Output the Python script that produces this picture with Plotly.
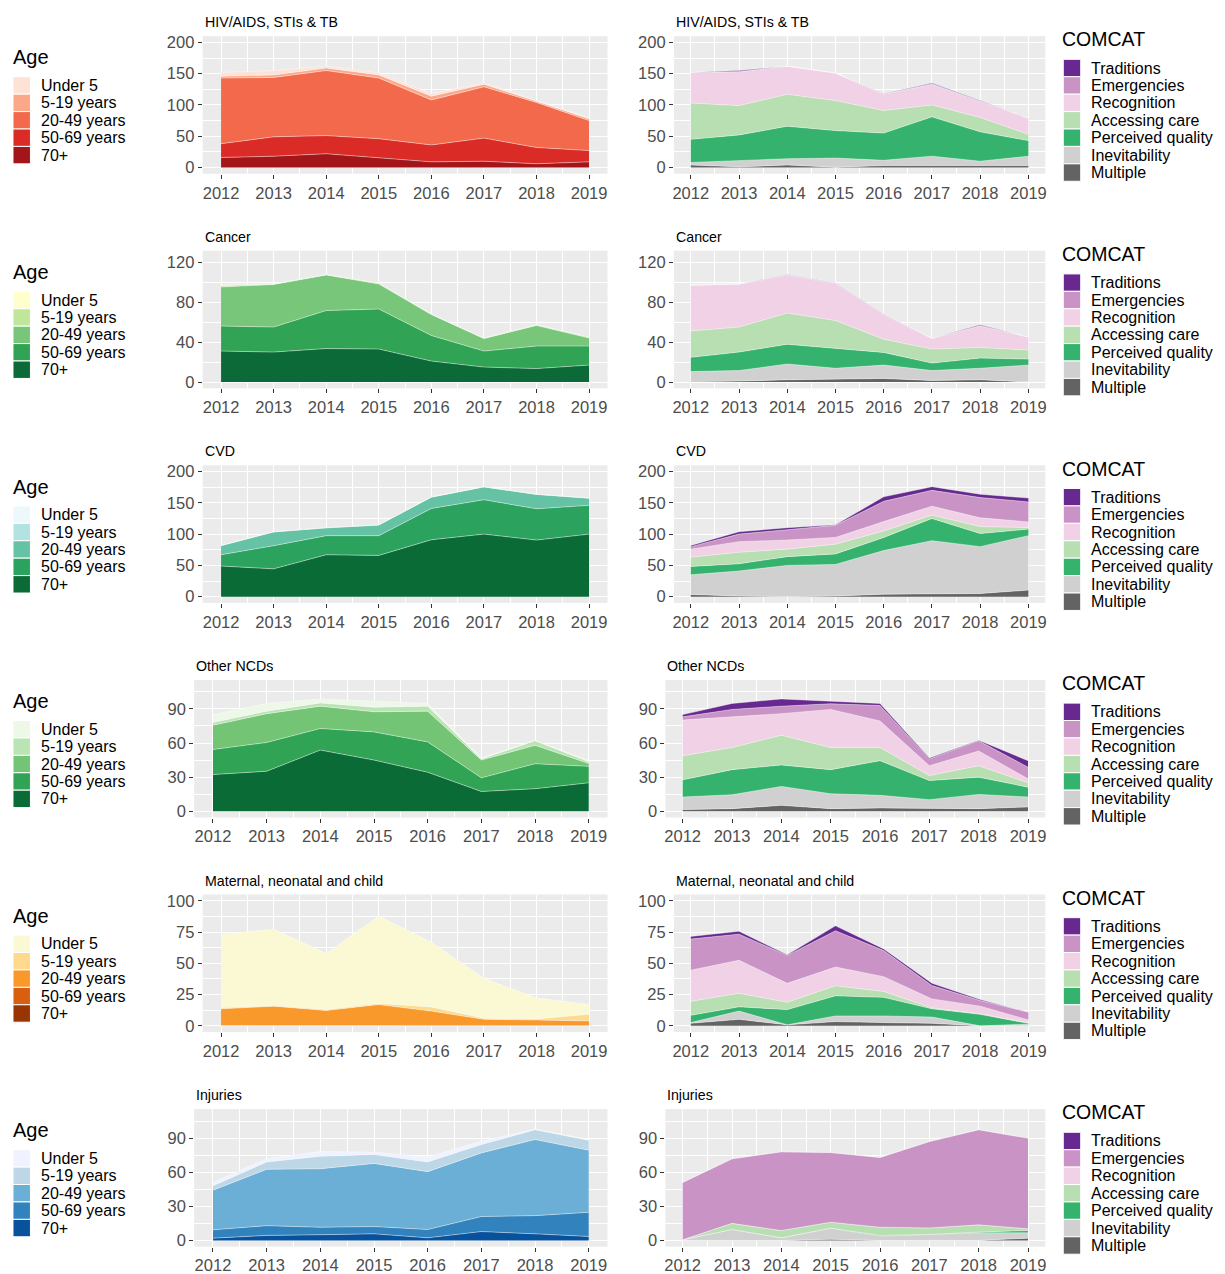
import plotly.graph_objects as go

W, H = 1225, 1274
years = [2012, 2013, 2014, 2015, 2016, 2017, 2018, 2019]

age_labels = ["Under 5", "5-19 years", "20-49 years", "50-69 years", "70+"]
comcat_labels = ["Traditions", "Emergencies", "Recognition", "Accessing care",
                 "Perceived quality", "Inevitability", "Multiple"]
panel_titles = ["HIV/AIDS, STIs & TB", "Cancer", "CVD", "Other NCDs",
                "Maternal, neonatal and child", "Injuries"]

# ---------------- HIV/AIDS, STIs & TB ----------------
hiv_under5 = [6, 7, 3, 3, 4, 2, 1, 1]
hiv_5_19 = [3, 4, 4, 5, 6, 4, 2, 3]
hiv_20_49 = [105, 95, 104, 97, 72, 82, 72, 48]
hiv_50_69 = [22, 31, 29, 30, 27, 37, 26, 18]
hiv_70p = [16, 18, 22, 16, 9, 10, 6, 9]

hiv_traditions = [0, 1.5, 0, 0, 0.5, 1, 0.5, 0]
hiv_emergencies = [0, 0.5, 0, 0, 0.5, 1, 0.5, 0]
hiv_recognition = [49, 54, 45, 44, 26, 33, 26, 26]
hiv_accessing = [58, 47, 51, 48, 36, 19, 23, 10]
hiv_perceived = [37, 41.5, 52, 44, 43.5, 63, 47, 25]
hiv_inevitability = [4, 9.5, 10, 14.5, 8.5, 15, 7, 15]
hiv_multiple = [4, 1, 4, 0.5, 3, 3, 3, 3]

# ---------------- Cancer ----------------
can_under5 = [0.3, 0, 0, 0, 0, 0, 0, 0]
can_5_19 = [1.5, 0.5, 0.5, 1, 0.3, 0.3, 0.8, 1]
can_20_49 = [39, 42.5, 35.5, 25, 21, 12.5, 20.5, 8]
can_50_69 = [25, 25, 38, 40, 25.5, 16, 22.5, 19]
can_70p = [31, 30, 33.5, 33, 21, 15, 13.5, 17]

can_traditions = [0, 0, 0.3, 0.2, 0.2, 0.1, 0.8, 0]
can_emergencies = [0, 0, 0.3, 0.3, 0.3, 0.2, 0.5, 0.1]
can_recognition = [45.8, 43, 37.9, 37, 24.5, 10.5, 21.5, 12.9]
can_accessing = [26.3, 25, 31.2, 27.5, 13.2, 14, 10.5, 9]
can_perceived = [14.2, 18.5, 19.8, 20.2, 12.6, 7.5, 10.2, 6]
can_inevitability = [10, 10.5, 15.7, 10.5, 13.4, 9.9, 11.5, 17]
can_multiple = [0.5, 1, 2.3, 3.3, 3.6, 1.6, 2.3, 0]

# ---------------- CVD ----------------
cvd_under5 = [0, 0, 0, 0, 0.2, 0, 0, 0]
cvd_5_19 = [0.5, 0.3, 0.3, 0.3, 0.5, 0.3, 0.3, 0.2]
cvd_20_49 = [14.5, 22, 12.5, 17, 18, 20.5, 23, 11.5]
cvd_50_69 = [18, 37, 30.5, 31.5, 50, 55, 50, 46]
cvd_70p = [49, 44.5, 67, 66, 91, 100, 90.5, 100]

cvd_traditions = [2, 3.8, 3.3, 0.8, 7.2, 5.8, 5.3, 6.2]
cvd_emergencies = [4, 12, 16.5, 19.3, 32.5, 25.3, 32.5, 32]
cvd_recognition = [13, 17, 14.5, 10.7, 15, 14.2, 14, 9]
cvd_accessing = [14.6, 18.4, 12, 15.6, 10.3, 5.5, 11, 2.5]
cvd_perceived = [13.4, 11.6, 14, 16.8, 21, 35.5, 21, 10.5]
cvd_inevitability = [31.5, 40, 49.7, 50.6, 69.7, 84.5, 75, 87]
cvd_multiple = [3.5, 1, 0.3, 1, 4, 5, 5, 10.5]

# ---------------- Other NCDs ----------------
ncd_under5 = [7, 6.8, 3.5, 5.3, 2.4, 0.8, 0.5, 0.9]
ncd_5_19 = [2.4, 2.2, 2.9, 4, 4.4, 1, 4, 1.6]
ncd_20_49 = [21.3, 25.3, 19.6, 17.7, 27, 15.6, 16.2, 2.5]
ncd_50_69 = [22, 25.3, 19, 24.8, 26.7, 12, 22, 14.5]
ncd_70p = [32.3, 35.2, 53.8, 45, 34.3, 17.4, 19.8, 25]

ncd_traditions = [2, 5.3, 6.4, 2.3, 1.8, 0.8, 0.5, 5.8]
ncd_emergencies = [2.8, 6.5, 6.6, 5, 13.6, 6, 9, 10.2]
ncd_recognition = [31.4, 27, 18.9, 33.5, 23.4, 8.6, 13, 3.5]
ncd_accessing = [21.2, 19.4, 26.2, 19.4, 11.5, 4.4, 10, 3.8]
ncd_perceived = [15.1, 22.1, 18.9, 21.2, 30.5, 16.8, 15.2, 8.7]
ncd_inevitability = [11, 12.2, 16.6, 13.1, 11.1, 7.9, 12.5, 8.7]
ncd_multiple = [1.5, 2.3, 5.2, 2.3, 2.9, 2.3, 2.3, 3.8]

# ---------------- Maternal, neonatal and child ----------------
mat_under5 = [58.9, 61, 45, 69.9, 51.8, 32, 16.8, 7.8]
mat_5_19 = [0.8, 0.5, 0.7, 0.8, 3.2, 0.8, 0.8, 5.3]
mat_20_49 = [13.3, 15.5, 12.1, 16.7, 11.6, 5.1, 4.6, 3.8]
mat_50_69 = [0.3, 0.2, 0.2, 0.3, 0.2, 0.1, 0.1, 0.1]
mat_70p = [0, 0, 0, 0, 0, 0, 0, 0]

mat_traditions = [2.1, 2.3, 0.5, 4, 1.3, 1.8, 0.8, 0]
mat_emergencies = [24.9, 20.9, 22.3, 29, 20.9, 10.7, 4.5, 6.3]
mat_recognition = [24.9, 26.4, 15.2, 15, 11.8, 7.1, 6, 2.3]
mat_accessing = [11.2, 10.8, 5.8, 8, 4.7, 0.8, 0.5, 0.4]
mat_perceived = [5.8, 3.4, 12.2, 16.1, 14.9, 6.6, 9.2, 0.7]
mat_inevitability = [0.6, 6.6, 0, 4.5, 5.3, 5, 0, 1.3]
mat_multiple = [2, 5.2, 0.8, 3.4, 2.6, 2, 0, 0]

# ---------------- Injuries ----------------
inj_under5 = [3, 2.8, 4.2, 2, 4.3, 2.9, 0.6, 0.7]
inj_5_19 = [3.8, 6.5, 11, 7.9, 8.5, 7.3, 8.7, 8.6]
inj_20_49 = [34.9, 49.5, 51.4, 55.5, 50.9, 56, 66.9, 54.7]
inj_50_69 = [7.3, 8.6, 6.6, 6.4, 7.3, 13.2, 16, 21.2]
inj_70p = [2, 4.4, 5, 5.8, 2.3, 7.8, 5.8, 3.5]

inj_traditions = [0, 0, 0, 0, 0, 0, 0, 0]
inj_emergencies = [50.4, 56.8, 69.3, 61.3, 61.4, 76, 83.7, 79.8]
inj_recognition = [0, 0, 0, 0, 0, 0, 0, 0]
inj_accessing = [0, 5.4, 6.4, 5.2, 7.2, 5.8, 6.4, 1.5]
inj_perceived = [0, 0, 0, 0, 0.6, 0.2, 0.6, 2]
inj_inevitability = [0.6, 9.6, 2.3, 9.8, 3.8, 5, 6.7, 4.7]
inj_multiple = [0, 0, 0, 1, 0, 0, 0, 2]

# y-axis scales per row
y_ranges = [[-10, 210], [-6.25, 131.25], [-10, 210], [-5.5, 115.5], [-5, 105], [-5.5, 115.5]]
y_ticks = [[0, 50, 100, 150, 200], [0, 40, 80, 120], [0, 50, 100, 150, 200],
           [0, 30, 60, 90], [0, 25, 50, 75, 100], [0, 30, 60, 90]]
y_minor = [[25, 75, 125, 175], [20, 60, 100], [25, 75, 125, 175],
           [15, 45, 75, 105], [12.5, 37.5, 62.5, 87.5], [15, 45, 75, 105]]

# palettes
age_palettes = [
    ["#FEE2D6", "#FBA88A", "#F26A4B", "#DB2B26", "#A31519"],
    ["#FFFFCC", "#C2E699", "#78C679", "#31A354", "#0B6A37"],
    ["#EDF8FB", "#B2E2E2", "#66C2A4", "#2CA25F", "#0B6B37"],
    ["#EDF8E9", "#BAE4B3", "#74C476", "#31A354", "#0B6B37"],
    ["#FBF9D3", "#FED98E", "#F9992C", "#D95F0E", "#993404"],
    ["#EFF3FF", "#BDD7E7", "#6BAED6", "#3182BD", "#08519C"],
]
comcat_colors = ["#67298F", "#C994C5", "#F0D1E5", "#B8DFB1", "#35B26E", "#D0D0D0", "#636363"]

age_data = [
    [hiv_under5, hiv_5_19, hiv_20_49, hiv_50_69, hiv_70p],
    [can_under5, can_5_19, can_20_49, can_50_69, can_70p],
    [cvd_under5, cvd_5_19, cvd_20_49, cvd_50_69, cvd_70p],
    [ncd_under5, ncd_5_19, ncd_20_49, ncd_50_69, ncd_70p],
    [mat_under5, mat_5_19, mat_20_49, mat_50_69, mat_70p],
    [inj_under5, inj_5_19, inj_20_49, inj_50_69, inj_70p],
]
comcat_data = [
    [hiv_traditions, hiv_emergencies, hiv_recognition, hiv_accessing, hiv_perceived, hiv_inevitability, hiv_multiple],
    [can_traditions, can_emergencies, can_recognition, can_accessing, can_perceived, can_inevitability, can_multiple],
    [cvd_traditions, cvd_emergencies, cvd_recognition, cvd_accessing, cvd_perceived, cvd_inevitability, cvd_multiple],
    [ncd_traditions, ncd_emergencies, ncd_recognition, ncd_accessing, ncd_perceived, ncd_inevitability, ncd_multiple],
    [mat_traditions, mat_emergencies, mat_recognition, mat_accessing, mat_perceived, mat_inevitability, mat_multiple],
    [inj_traditions, inj_emergencies, inj_recognition, inj_accessing, inj_perceived, inj_inevitability, inj_multiple],
]

FONT = "Liberation Sans, Arial, sans-serif"
fig = go.Figure()
layout_axes = {}
annotations = []
shapes = []

def fx(px):
    return px / W

def fy(py):
    return 1 - py / H

ROW_STEP = 216.8
for i in range(6):
    top = 33.5 + ROW_STEP * i
    bot = top + 139
    narrow = i in (3, 5)
    cols = [(193.5 if narrow else 202.0, 607.5), (665.5 if narrow else 674.0, 1046.0)]
    for j in range(2):
        n = 2 * i + j + 1
        xa = "x" if n == 1 else f"x{n}"
        ya = "y" if n == 1 else f"y{n}"
        x0, x1 = cols[j]
        layout_axes["xaxis" if n == 1 else f"xaxis{n}"] = dict(
            domain=[fx(x0), fx(x1)], anchor=ya, range=[2011.65, 2019.35],
            tickmode="array", tickvals=years, ticktext=[str(y) for y in years],
            ticks="outside", ticklen=4, tickwidth=1, tickcolor="#333333",
            tickfont=dict(size=16.5, color="#4D4D4D", family=FONT),
            showgrid=True, gridcolor="white", gridwidth=1.2, zeroline=False, showline=False,
            minor=dict(tickmode="array", tickvals=[y + 0.5 for y in years[:-1]],
                       showgrid=True, gridcolor="white", gridwidth=0.6, ticks=""),
            fixedrange=True,
        )
        layout_axes["yaxis" if n == 1 else f"yaxis{n}"] = dict(
            domain=[fy(bot), fy(top)], anchor=xa, range=y_ranges[i],
            tickmode="array", tickvals=y_ticks[i], ticktext=[str(v) for v in y_ticks[i]],
            ticks="outside", ticklen=4, tickwidth=1, tickcolor="#333333",
            tickfont=dict(size=16.5, color="#4D4D4D", family=FONT),
            showgrid=True, gridcolor="white", gridwidth=1.2, zeroline=False, showline=False,
            minor=dict(tickmode="array", tickvals=y_minor[i],
                       showgrid=True, gridcolor="white", gridwidth=0.6, ticks=""),
            fixedrange=True,
        )
        # stacked areas (bottom-most first)
        if j == 0:
            series, labels, colors = age_data[i], age_labels, age_palettes[i]
        else:
            series, labels, colors = comcat_data[i], comcat_labels, comcat_colors
        for k in range(len(series) - 1, -1, -1):
            fig.add_trace(go.Scatter(
                x=years, y=series[k], name=labels[k], mode="lines",
                stackgroup=f"g{n}", fillcolor=colors[k],
                line=dict(color="rgba(255,255,255,0.6)", width=0.7),
                xaxis=xa, yaxis=ya, showlegend=False, hoverinfo="skip",
            ))
        # panel title
        annotations.append(dict(
            text=panel_titles[i], x=fx(x0), y=fy(top - 14), xref="paper", yref="paper",
            xanchor="left", yanchor="middle", showarrow=False,
            font=dict(size=14.2, color="black", family=FONT),
        ))

    # Age legend
    off = ROW_STEP * i
    annotations.append(dict(text="Age", x=fx(10), y=fy(55 + off), xref="paper", yref="paper",
                            xanchor="left", yanchor="middle", showarrow=False,
                            font=dict(size=20, color="black", family=FONT)))
    for k, lab in enumerate(age_labels):
        cy = 83.3 + 17.6 * k + off
        shapes.append(dict(type="rect", xref="paper", yref="paper",
                           x0=fx(12), x1=fx(29.5), y0=fy(cy + 8.8), y1=fy(cy - 8.8),
                           fillcolor=age_palettes[i][k], line=dict(color="white", width=1)))
        annotations.append(dict(text=lab, x=fx(38), y=fy(cy), xref="paper", yref="paper",
                                xanchor="left", yanchor="middle", showarrow=False,
                                font=dict(size=16, color="black", family=FONT)))
    # COMCAT legend
    annotations.append(dict(text="COMCAT", x=fx(1061), y=fy(36.7 + off), xref="paper", yref="paper",
                            xanchor="left", yanchor="middle", showarrow=False,
                            font=dict(size=19.5, color="black", family=FONT)))
    for k, lab in enumerate(comcat_labels):
        cy = 65.7 + 17.6 * k + off
        shapes.append(dict(type="rect", xref="paper", yref="paper",
                           x0=fx(1064), x1=fx(1081.5), y0=fy(cy + 8.8), y1=fy(cy - 8.8),
                           fillcolor=comcat_colors[k], line=dict(color="white", width=1)))
        annotations.append(dict(text=lab, x=fx(1090), y=fy(cy), xref="paper", yref="paper",
                                xanchor="left", yanchor="middle", showarrow=False,
                                font=dict(size=16, color="black", family=FONT)))

fig.update_layout(
    width=W, height=H, margin=dict(l=0, r=0, t=0, b=0),
    paper_bgcolor="white", plot_bgcolor="#EBEBEB",
    font=dict(family=FONT), showlegend=False,
    annotations=annotations, shapes=shapes, **layout_axes,
)
fig.write_html("out.html", config={"displayModeBar": False},
               post_script="document.body.style.margin='0px';document.body.style.overflow='hidden';")
